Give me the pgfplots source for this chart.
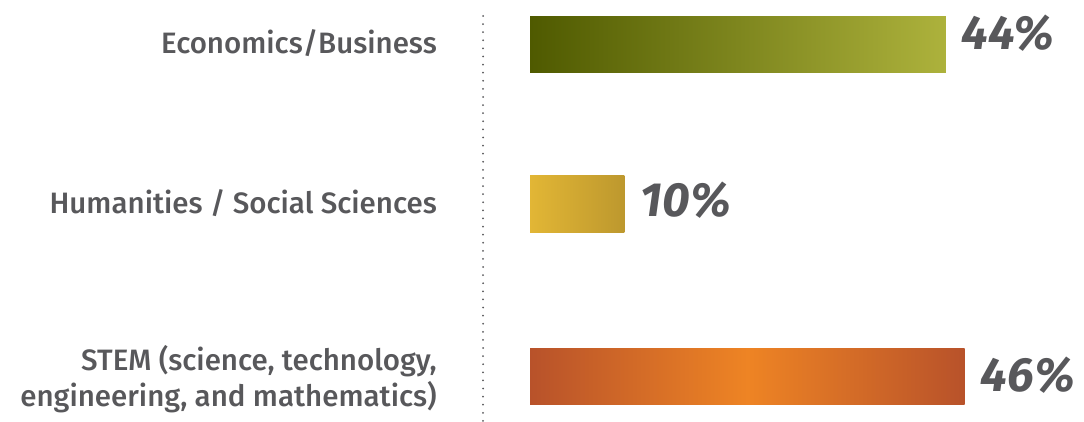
\documentclass[border=0pt]{standalone}
\usepackage{pgfplots}
\pgfplotsset{compat=1.18}
\usepackage{fontspec}
\setmainfont{Fira Sans}
\newfontfamily\labfont{Fira Sans Medium}
\definecolor{txt}{HTML}{58585B}
\definecolor{olA}{HTML}{4F5A00}
\definecolor{olB}{HTML}{ADB23C}
\definecolor{yeA}{HTML}{E2B635}
\definecolor{yeB}{HTML}{BD982E}
\definecolor{orA}{HTML}{B8522A}
\definecolor{orB}{HTML}{EE8424}
\begin{document}
\begin{tikzpicture}
\begin{axis}[
  width=1084pt, height=421pt, scale only axis,
  xmin=-56.08, xmax=58.62, ymin=0, ymax=421, y dir=reverse,
  axis line style={draw=none},
  xtick=\empty,
  ytick={43,203,379},
  yticklabels={Economics/Business, Humanities / Social Sciences, {STEM (science, technology,\\engineering, and mathematics)}},
  major tick length=0pt,
  yticklabel style={anchor=east, align=right, inner sep=0pt, xshift=437pt, font=\labfont\fontsize{29.5}{36}\selectfont, text=txt},
  clip=false,
]
\path (rel axis cs:0,0) rectangle (rel axis cs:1,1);
\draw[txt, line width=2pt, line cap=round, dash pattern=on 0pt off 8.1pt] (axis cs:-4.97,16) -- (axis cs:-4.97,421);
\addplot[xbar, bar width=56pt, bar shift=0pt, draw=none, left color=olA, right color=olB] coordinates {(44,45)};
\addplot[xbar, bar width=57pt, bar shift=0pt, draw=none, left color=yeA, right color=yeB] coordinates {(10,204.5)};
\addplot[xbar, bar width=56pt, bar shift=0pt, draw=none, left color=orA, right color=orA, middle color=orB] coordinates {(46,377)};
\addplot[draw=none, mark=none, point meta=explicit symbolic,
  nodes near coords={\pgfplotspointmeta\%},
  nodes near coords style={anchor=west, inner sep=0pt, xshift=16pt, text=txt, font=\bfseries\itshape\fontsize{48}{48}\selectfont}]
  coordinates {(44,33) [44] (10,200) [10] (46,375) [46]};
\end{axis}
\end{tikzpicture}
\end{document}
